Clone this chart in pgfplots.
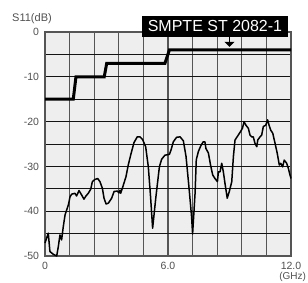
\documentclass[border=0pt]{standalone}
\usepackage{pgfplots}
\pgfplotsset{compat=1.18}
\usetikzlibrary{arrows.meta}
\usepackage{fontspec}
\setmainfont{Liberation Sans}
\definecolor{bg}{RGB}{238,238,238}
\definecolor{gridx}{RGB}{85,85,85}
\definecolor{gridy}{RGB}{20,20,20}
\definecolor{tickc}{RGB}{80,80,80}
\begin{document}
\begin{tikzpicture}
\begin{axis}[
 scale only axis, width=246pt, height=224pt,
 xmin=0, xmax=12, ymin=-50, ymax=0,
 axis background/.style={fill=bg},
 xtick={0,6,12}, xticklabels={0,6.0,12.0},
 minor xtick={1.2,2.4,3.6,4.8,7.2,8.4,9.6,10.8},
 ytick={-50,-40,-30,-20,-10,0},
 yticklabels={-50,-40,-30,-20,-10,0},
 minor ytick={-45,-35,-25,-15,-5},
 grid=both,
 major x grid style={gridx, line width=1.2pt},
 minor x grid style={gridx, line width=1.2pt},
 major y grid style={gridy, line width=0.9pt},
 minor y grid style={gridy, line width=0.9pt},
 axis line style={gridx, line width=1.1pt},
 major tick length=0pt, minor tick length=0pt,
 tick label style={font=\fontsize{10.5}{12}\selectfont, text=tickc},
 /pgf/number format/assume math mode=true,
 xticklabel style={yshift=-3pt},
 yticklabel style={xshift=-2.5pt},
 clip=false,
]
\coordinate (bl) at (rel axis cs:0,0);
\coordinate (tr) at (rel axis cs:1,1);
\addplot[black, line width=3pt, line join=miter] coordinates {
(0,-15) (1.38,-15) (1.51,-10) (2.89,-10) (3.01,-7) (5.85,-7) (6.07,-4) (12,-4)};
\addplot[black, line width=1.5pt, line join=round] coordinates {
(0,-47.1) (0.16,-44.9) (0.24,-49) (0.4,-49.6) (0.57,-50) (0.65,-47.9) (0.73,-45.3)
(0.81,-46.4) (0.89,-43.5) (0.98,-40.8) (1.14,-38.6) (1.22,-36.8) (1.3,-36.2)
(1.46,-36) (1.54,-36.6) (1.66,-35.4) (1.79,-36.4) (1.9,-37.3) (2.0,-36.6)
(2.11,-36) (2.23,-35.1) (2.31,-33.4) (2.44,-32.9) (2.57,-32.7) (2.68,-33.4)
(2.8,-34.9) (2.88,-37.1) (2.98,-38.4) (3.09,-38.2) (3.25,-37.1) (3.37,-35.6)
(3.53,-35.5) (3.61,-35.9) (3.66,-35.3) (3.69,-36) (3.82,-34.2) (3.95,-32.3)
(4.06,-29.7) (4.2,-27.1) (4.34,-24.7) (4.5,-23.4) (4.63,-23.4) (4.76,-24)
(4.91,-25.6) (5.04,-30.1) (5.15,-36.8) (5.25,-43.8) (5.41,-36.8) (5.58,-30.1)
(5.69,-28.4) (5.85,-27.5) (6.07,-27.3) (6.15,-26.3) (6.26,-24.5) (6.42,-23.5)
(6.59,-23.4) (6.75,-24.3) (6.88,-27.8) (7.02,-34.5) (7.15,-41.2) (7.2,-45.1)
(7.32,-36) (7.38,-28.5) (7.48,-26.7) (7.6,-25.4) (7.72,-24.5) (7.8,-24.5)
(7.85,-26) (7.97,-27) (8.08,-29.8) (8.18,-31.9) (8.29,-32.7) (8.41,-33.4)
(8.46,-31.2) (8.54,-31.2) (8.62,-29.3) (8.7,-31.2) (8.78,-33.8) (8.89,-37.1)
(8.99,-35.6) (9.11,-33.4) (9.19,-27.8) (9.27,-24.1) (9.43,-23) (9.54,-22.2)
(9.63,-21.5) (9.71,-20) (9.8,-20.8) (9.92,-21.5) (10.0,-23) (10.08,-23.4)
(10.16,-23.4) (10.24,-24.8) (10.33,-25.6) (10.38,-24.1) (10.49,-23.4) (10.57,-23)
(10.65,-21.1) (10.77,-20.8) (10.86,-19.6) (10.93,-20.8) (11.01,-21.9) (11.11,-22.6)
(11.22,-24.8) (11.33,-27.1) (11.43,-29.7) (11.5,-29.3) (11.59,-30.1) (11.67,-28.6)
(11.79,-29.3) (11.87,-30.4) (11.95,-31.9) (12,-32.7)};
\draw[black, line width=1.8pt, -{Triangle[width=10pt,length=5pt]}] (axis cs:9.0,-1.0) -- (axis cs:9.0,-3.3);
\node[fill=black, text=white, minimum width=146pt, minimum height=21.6pt, inner sep=0pt,
 font=\fontsize{16}{18}\selectfont] at (axis cs:8.29,1.23) {SMPTE ST 2082-1};
\node[text=tickc, font=\fontsize{11}{13}\selectfont, inner sep=0pt] at (axis cs:-0.634,2.9) {S11(dB)};
\node[text=tickc, font=\fontsize{10}{12}\selectfont, inner sep=0pt] at (axis cs:12.08,-54.75) {(GHz)};
\end{axis}
\pgfresetboundingbox
\path[use as bounding box] ([shift={(-45pt,-26pt)}]bl) rectangle ([shift={(17pt,32pt)}]tr);
\end{tikzpicture}
\end{document}
